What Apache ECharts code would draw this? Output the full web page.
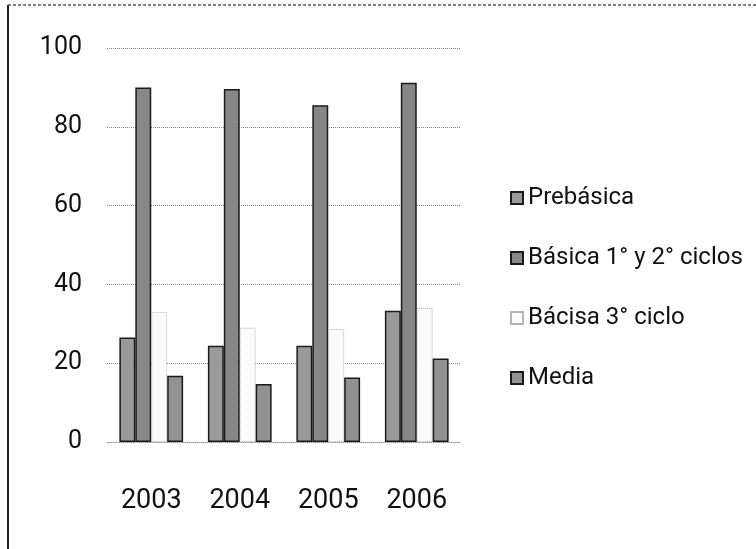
<!DOCTYPE html>
<html>
<head>
<meta charset="utf-8">
<script src="https://cdn.jsdelivr.net/npm/echarts@6/dist/echarts.min.js"></script>
<style>html,body{margin:0;padding:0;background:#fff}#c{width:756px;height:549px}</style>
</head>
<body>
<div id="c"></div>
<script>
var categories = ['2003', '2004', '2005', '2006'];
var seriesNames = ['Prebásica', 'Básica 1° y 2° ciclos', 'Bácisa 3° ciclo', 'Media'];
var prebasica = [26.5, 24.4, 24.4, 33.3];
var basica12 = [90, 89.6, 85.5, 91.2];
var basica3 = [33, 29, 28.7, 34];
var media = [16.8, 14.7, 16.4, 21.2];
var yTicks = [0, 20, 40, 60, 80, 100];

var FONT = "'Liberation Sans Narrow', 'Roboto', sans-serif";
var chart = echarts.init(document.getElementById('c'), null, {renderer: 'canvas'});

function solid(color) {
  return {color: color, borderColor: '#1a1a1a', borderWidth: 1.5};
}

chart.setOption({
  animation: false,
  backgroundColor: '#fff',
  textStyle: {fontFamily: FONT},
  grid: {left: 107, right: 295, top: 48, bottom: 107, containLabel: false},
  legend: {
    orient: 'vertical',
    left: 505,
    top: 178,
    itemWidth: 12,
    itemHeight: 12,
    itemGap: 30,
    icon: 'rect',
    textStyle: {fontFamily: FONT, fontSize: 24, color: '#111', lineHeight: 30},
    data: seriesNames
  },
  xAxis: {
    type: 'category',
    data: categories,
    axisTick: {show: false},
    axisLine: {show: true, lineStyle: {color: '#999', type: 'dotted', width: 1}},
    axisLabel: {fontFamily: FONT, fontSize: 27, color: '#111', margin: 46}
  },
  yAxis: {
    type: 'value',
    min: yTicks[0],
    max: yTicks[yTicks.length - 1],
    interval: 20,
    axisLine: {show: false},
    axisTick: {show: false},
    splitLine: {lineStyle: {color: '#888', type: 'dotted', width: 1}},
    axisLabel: {fontFamily: FONT, fontSize: 25, color: '#111', margin: 25}
  },
  series: [
    {name: seriesNames[0], type: 'bar', data: prebasica, barGap: '0%', barCategoryGap: '28%', itemStyle: solid('#9a9a9a')},
    {name: seriesNames[1], type: 'bar', data: basica12, itemStyle: solid('#878787')},
    {name: seriesNames[2], type: 'bar', data: basica3, itemStyle: {color: '#fbfbfb', borderColor: '#b5b5b5', borderWidth: 1, borderType: 'dotted'}},
    {name: seriesNames[3], type: 'bar', data: media, itemStyle: solid('#929292')}
  ],
  graphic: [
    {type: 'line', shape: {x1: 8, y1: 5, x2: 8, y2: 549}, style: {stroke: '#222', lineWidth: 2}},
    {type: 'line', shape: {x1: 8, y1: 5, x2: 756, y2: 5}, style: {stroke: '#555', lineWidth: 1.5, lineDash: [3, 2]}}
  ]
});
</script>
</body>
</html>
